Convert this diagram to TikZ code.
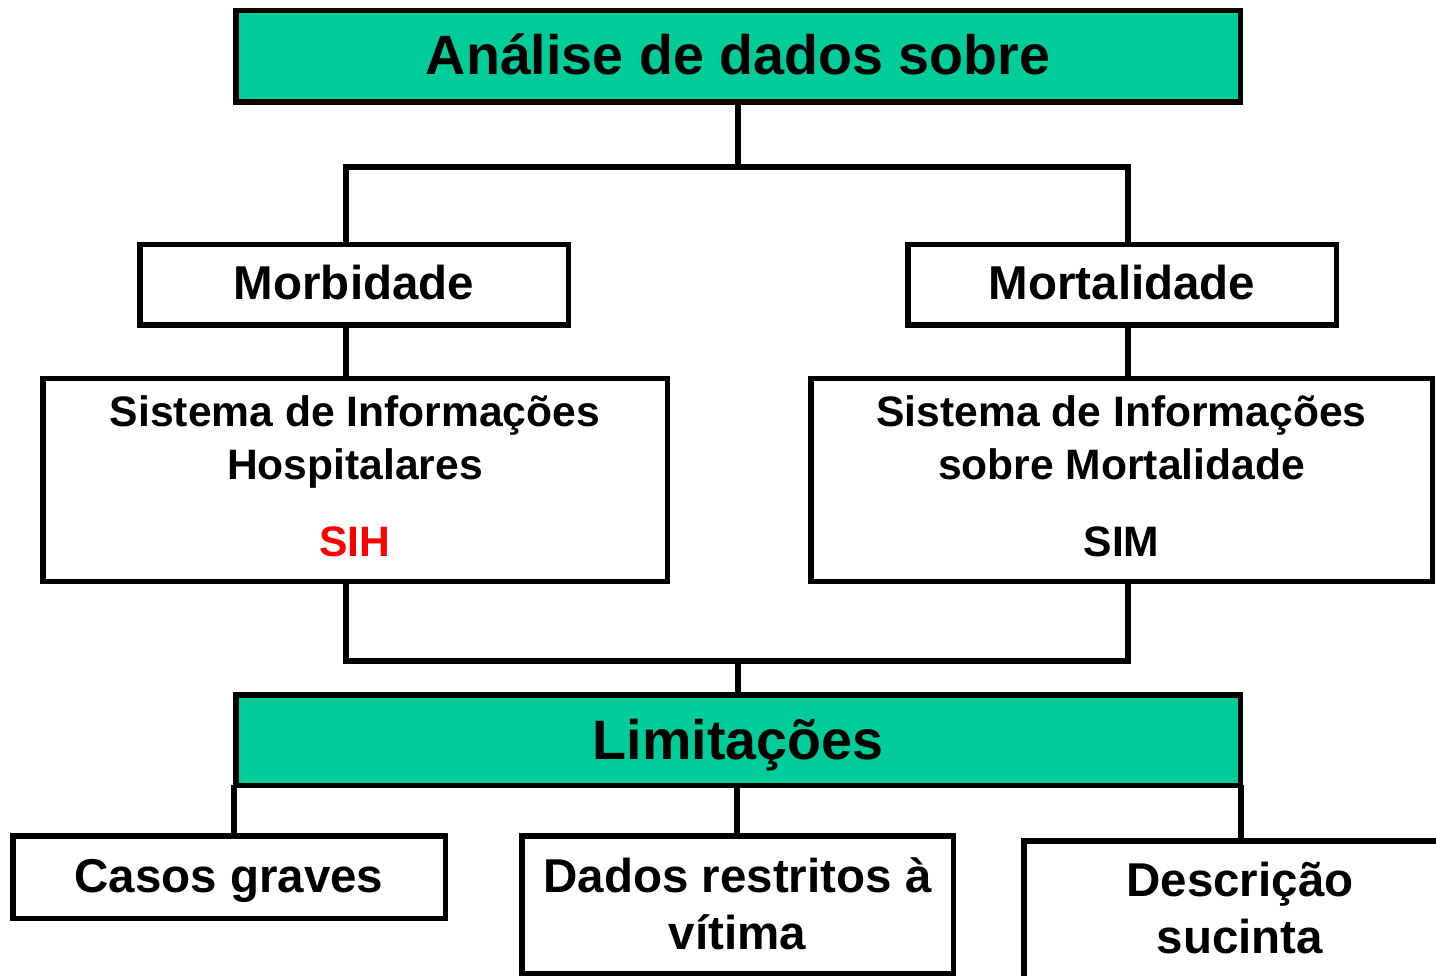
\documentclass[tikz,border=0pt]{standalone}
\usepackage{fontspec}
\setmainfont{Liberation Sans}
\definecolor{boxgreen}{HTML}{00CC99}
\definecolor{sihred}{HTML}{FF0000}
\begin{document}
\begin{tikzpicture}[x=1pt,y=-1pt,
  box/.style={draw=black,line width=5.5pt,inner sep=0pt,outer sep=0pt,rectangle},
  gbox/.style={box,fill=boxgreen},
  wbox/.style={box,fill=white},
  conn/.style={draw=black,line width=5.5pt},
  big/.style={font=\fontsize{55.6}{66}\selectfont\bfseries,anchor=base,inner sep=0pt},
  mid/.style={font=\fontsize{47.5}{56}\selectfont\bfseries,anchor=base,inner sep=0pt},
  sml/.style={font=\fontsize{42.6}{51}\selectfont\bfseries,anchor=base,inner sep=0pt}]
\useasboundingbox (0,0) rectangle (1436,976);
\clip (0,0) rectangle (1436,976);
% boxes
\node[gbox,minimum width=1004.5pt,minimum height=91.5pt] (top) at (738,56.5) {};
\node[wbox,minimum width=428.5pt,minimum height=80.5pt] (morb) at (354,285) {};
\node[wbox,minimum width=428.5pt,minimum height=80.5pt] (mort) at (1122,285) {};
\node[wbox,minimum width=624.5pt,minimum height=202.5pt] (sih) at (355,480) {};
\node[wbox,minimum width=621.5pt,minimum height=202.5pt] (sim) at (1121.5,480) {};
\node[gbox,minimum width=1004.5pt,minimum height=90.5pt] (lim) at (738,740) {};
\node[wbox,minimum width=432.5pt,minimum height=82.5pt] (casos) at (229,877) {};
\node[wbox,minimum width=431.5pt,minimum height=137.5pt] (dados) at (737.5,904.5) {};
\node[wbox,minimum width=476.5pt,minimum height=206.5pt] (desc) at (1262,944) {};
% junction coordinates
\coordinate (j1) at (346,167);
\coordinate (j2) at (1128,167);
\coordinate (j3) at (346,661);
\coordinate (j4) at (1128,661);
\coordinate (b1) at (234,0);
\coordinate (b2) at (737,0);
\coordinate (b3) at (1241,0);
% connectors
\draw[conn] (j1 -| top.south) -- (top.south);
\draw[conn] (j1 |- morb.north) -- (j1) -- (j2) -- (j2 |- mort.north);
\draw[conn] (j1 |- morb.south) -- (j1 |- sih.north);
\draw[conn] (j2 |- mort.south) -- (j2 |- sim.north);
\draw[conn] (j3 |- sih.south) -- (j3) -- (j4) -- (j4 |- sim.south);
\draw[conn] (j3 -| lim.north) -- (lim.north);
\draw[conn] (b1 |- lim.south) -- (b1 |- casos.north);
\draw[conn] (b2 |- lim.south) -- (b2 |- dados.north);
\draw[conn] (b3 |- lim.south) -- (b3 |- desc.north);
% texts
\node[big] (ttop) at (738,75) {Análise de dados sobre};
\node[mid] (tmorb) at (354,300) {Morbidade};
\node[mid] (tmort) at (1122,300) {Mortalidade};
\node[sml] (tsih1) at (355,427) {Sistema de Informações};
\node[sml] (tsih2) at (355,479) {Hospitalares};
\node[sml,text=sihred] (tsih3) at (355,556) {SIH};
\node[sml] (tsim1) at (1121.5,427) {Sistema de Informações};
\node[sml] (tsim2) at (1121.5,479) {sobre Mortalidade};
\node[sml] (tsim3) at (1121.5,556) {SIM};
\node[big] (tlim) at (738,759) {Limitações};
\node[mid] (tcasos) at (229,892) {Casos graves};
\node[mid] (tdados1) at (737.5,892) {Dados restritos à};
\node[mid] (tdados2) at (737.5,949) {vítima};
\node[mid] (tdesc1) at (1240,896) {Descrição};
\node[mid] (tdesc2) at (1240,953) {sucinta};
\end{tikzpicture}
\end{document}
